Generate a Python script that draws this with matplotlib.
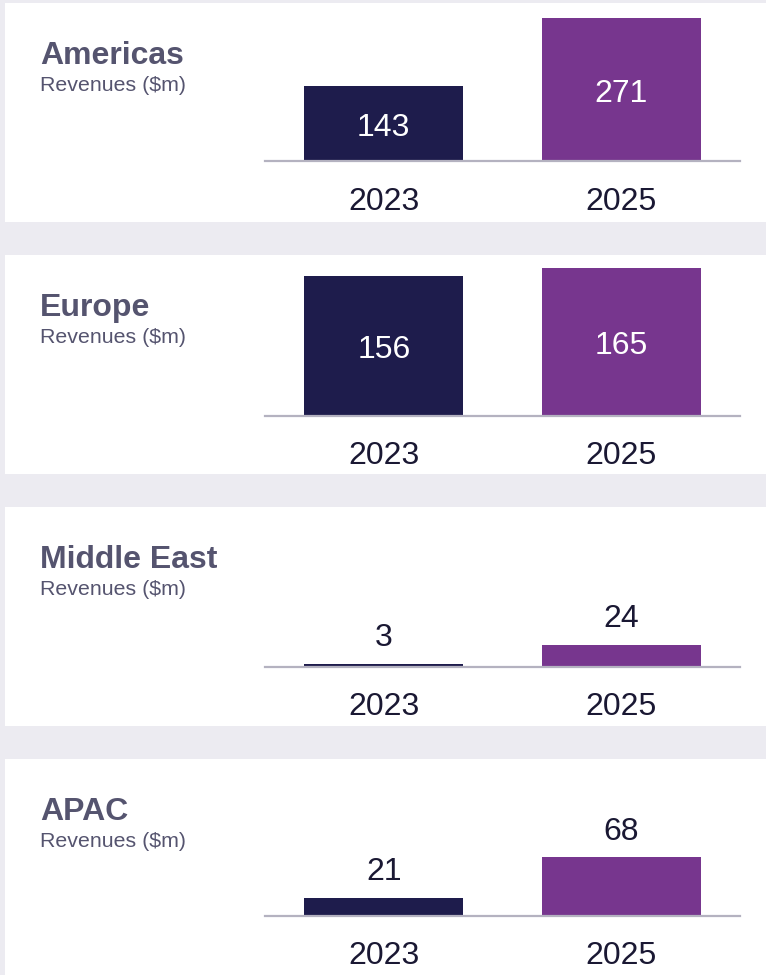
import matplotlib
matplotlib.use("Agg")
import matplotlib.pyplot as plt
from matplotlib.patches import Rectangle

regions = ["Americas", "Europe", "Middle East", "APAC"]
subtitle = "Revenues ($m)"
years = ["2023", "2025"]
rev_2023 = [143, 156, 3, 21]
rev_2025 = [271, 165, 24, 68]

W, H = 766, 975
DPI = 100
BG = "#ECEBF1"
C23 = "#1E1C4C"
C25 = "#77368E"
TITLE_C = "#55546F"
TEXT_C = "#1A1833"
AXIS_C = "#B4B2C0"
FONT = ["Liberation Sans", "DejaVu Sans"]

panel_tops = [3, 255, 507, 759]
panel_h = 219
baselines = [161, 415.5, 666.5, 915.5]   # px from top
ax_h = 150                               # axes height in px
px_per_unit = [0.526, 0.892, 0.9, 0.855]

fig = plt.figure(figsize=(W / DPI, H / DPI), dpi=DPI, facecolor=BG)

def fx(px):
    return px / W

def fy(px_from_top):
    return 1 - px_from_top / H

for i, name in enumerate(regions):
    top = panel_tops[i]
    bottom = min(top + panel_h, H)
    fig.patches.append(Rectangle((fx(5), fy(bottom)), fx(W - 5), (bottom - top) / H,
                                 transform=fig.transFigure, facecolor="white",
                                 edgecolor="none", zorder=-10))
    fig.text(fx(40), fy(top + 61), name, fontsize=23, fontweight="bold",
             color=TITLE_C, family=FONT, va="baseline", ha="left")
    fig.text(fx(40), fy(top + 88), subtitle, fontsize=15.4,
             color=TITLE_C, family=FONT, va="baseline", ha="left")

    base = baselines[i]
    ax = fig.add_axes([fx(265), fy(base), fx(740 - 265), ax_h / H])
    ax.set_zorder(5)
    ax.set_facecolor("none")
    ymax = ax_h / px_per_unit[i]
    vals = [rev_2023[i], rev_2025[i]]
    ax.bar([0, 1], vals, width=0.668, color=[C23, C25], zorder=2)
    ax.set_xlim(-0.5, 1.5)
    ax.set_ylim(0, ymax)
    for s in ["top", "right", "left"]:
        ax.spines[s].set_visible(False)
    ax.spines["bottom"].set_color(AXIS_C)
    ax.spines["bottom"].set_linewidth(1.6)
    ax.spines["bottom"].set_zorder(3)
    ax.set_yticks([])
    ax.set_xticks([0, 1])
    ax.set_xticklabels(years, fontsize=23, color=TEXT_C, family=FONT)
    ax.tick_params(axis="x", length=0, pad=18.7)
    for xi, v in zip([0, 1], vals):
        hpx = v * px_per_unit[i]
        if hpx > 60:
            ax.annotate(str(v), (xi, v / 2), xytext=(0, -9), textcoords="offset points",
                        ha="center", va="baseline", fontsize=23,
                        color="white", family=FONT, zorder=4)
        else:
            ax.annotate(str(v), (xi, v), xytext=(0, 7.5), textcoords="offset points",
                        ha="center", va="bottom", fontsize=23, color=TEXT_C,
                        family=FONT, zorder=4)

fig.savefig("out.png", dpi=DPI, facecolor=BG)
